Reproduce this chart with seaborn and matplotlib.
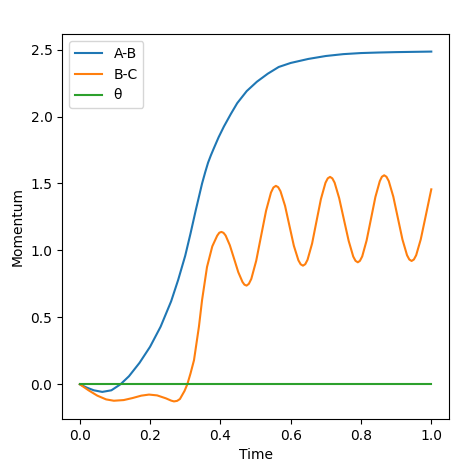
import matplotlib
matplotlib.use("Agg")
import matplotlib.pyplot as plt
import seaborn as sns
import pandas as pd

# A-B momentum
t_ab = [0.0, 0.02, 0.04, 0.064, 0.09, 0.116, 0.14, 0.17, 0.2, 0.23, 0.26, 0.28,
        0.30, 0.315, 0.33, 0.348, 0.357, 0.365, 0.373, 0.381, 0.395, 0.41, 0.43, 0.448, 0.475,
        0.504, 0.535, 0.566, 0.60, 0.65, 0.70, 0.75, 0.80, 0.85, 0.90, 0.95, 1.0]
v_ab = [0.0, -0.025, -0.045, -0.057, -0.045, 0.0, 0.06, 0.16, 0.28, 0.43, 0.62, 0.78,
        0.96, 1.125, 1.30, 1.50, 1.585, 1.655, 1.71, 1.76, 1.845, 1.925, 2.02, 2.10, 2.19,
        2.26, 2.32, 2.37, 2.40, 2.43, 2.452, 2.466, 2.474, 2.478, 2.481, 2.483, 2.485]

# B-C momentum
t_bc = [0.0, 0.025, 0.05, 0.075, 0.097, 0.125, 0.15, 0.175, 0.197, 0.22, 0.245,
        0.26, 0.268, 0.277, 0.285, 0.298, 0.306, 0.315, 0.325, 0.339, 0.348, 0.362, 0.377, 0.391,
        0.397, 0.403, 0.409, 0.415, 0.427, 0.439, 0.451, 0.463, 0.4685, 0.4745, 0.481,
        0.488, 0.502, 0.516, 0.530, 0.544, 0.551, 0.558, 0.5645,
        0.571, 0.584, 0.5965, 0.609, 0.622, 0.6285, 0.635, 0.6415,
        0.648, 0.661, 0.6735, 0.686, 0.699, 0.7055, 0.712, 0.7185,
        0.725, 0.738, 0.7515, 0.765, 0.778, 0.7845, 0.791, 0.797,
        0.8035, 0.816, 0.8285, 0.841, 0.8535, 0.8595, 0.866, 0.8725,
        0.879, 0.892, 0.905, 0.918, 0.931, 0.9375, 0.944, 0.9505,
        0.957, 0.970, 0.983, 0.9955, 1.0]
v_bc = [0.0, -0.045, -0.085, -0.113, -0.123, -0.118, -0.103, -0.085, -0.077, -0.083, -0.105,
        -0.122, -0.128, -0.124, -0.11, -0.05, 0.0, 0.08, 0.18, 0.43, 0.63, 0.876, 1.03, 1.11,
        1.132, 1.138, 1.131, 1.111, 1.038, 0.938, 0.837, 0.764, 0.744, 0.737, 0.750,
        0.787, 0.923, 1.110, 1.296, 1.432, 1.470, 1.482, 1.472,
        1.442, 1.333, 1.184, 1.035, 0.926, 0.896, 0.886, 0.897,
        0.930, 1.052, 1.218, 1.383, 1.505, 1.538, 1.549, 1.538,
        1.506, 1.390, 1.230, 1.071, 0.954, 0.922, 0.911, 0.922,
        0.955, 1.074, 1.236, 1.399, 1.517, 1.550, 1.561, 1.550,
        1.518, 1.401, 1.241, 1.081, 0.964, 0.932, 0.921, 0.932,
        0.964, 1.082, 1.243, 1.40, 1.456]

# theta
t_th = [0.0, 1.0]
v_th = [0.0, 0.0]

labels = ["A-B", "B-C", "θ"]
colors = ["#1f77b4", "#ff7f0e", "#2ca02c"]

plt.rcParams['font.family'] = ['DejaVu Sans']
fig = plt.figure(figsize=(4.71, 4.67), dpi=100)
ax = fig.add_axes([0.132, 0.103, 0.821, 0.824])

for t, v, lab, c in zip([t_ab, t_bc, t_th], [v_ab, v_bc, v_th], labels, colors):
    df = pd.DataFrame({"Time": t, "Momentum": v})
    sns.lineplot(data=df, x="Time", y="Momentum", ax=ax, color=c, label=lab,
                 linewidth=1.5, sort=False)

ax.legend(loc="upper left")
ax.set_xlabel("Time")
ax.set_ylabel("Momentum")
fig.savefig("out.png", dpi=100)
